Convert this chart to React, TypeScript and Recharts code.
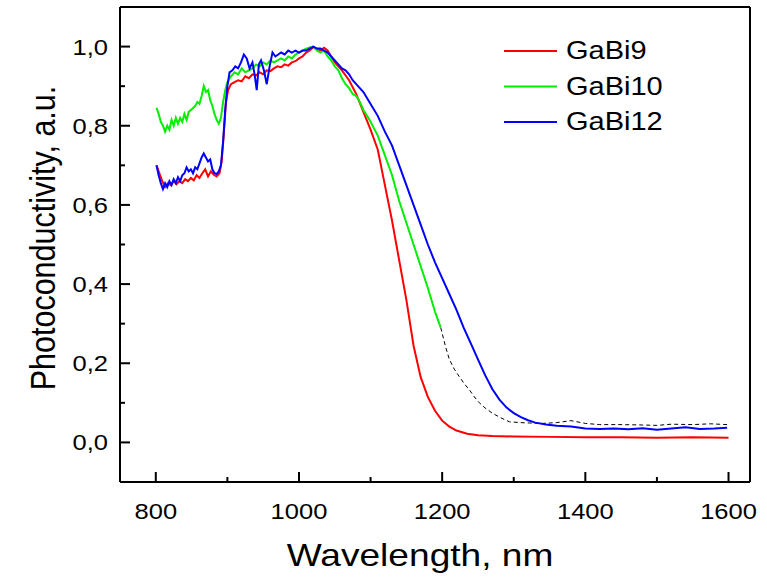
import { LineChart, Line, XAxis, YAxis, ReferenceLine } from "recharts"

// [wavelength nm, photoconductivity a.u.]
const gabi9: [number, number][] = [
  [801, 0.70], [805, 0.68], [809, 0.66], [813, 0.645], [817, 0.655], [821, 0.65], [825, 0.66], [829, 0.652],
  [833, 0.66], [837, 0.655], [841, 0.665], [845, 0.66], [849, 0.668], [853, 0.662], [857, 0.675], [861, 0.668],
  [865, 0.68], [869, 0.69], [873, 0.672], [877, 0.685], [881, 0.676], [885, 0.672], [889, 0.68], [892, 0.71],
  [895, 0.78], [898, 0.86], [901, 0.89], [905, 0.905], [910, 0.91], [915, 0.915], [920, 0.912], [925, 0.925],
  [930, 0.92], [935, 0.93], [940, 0.927], [945, 0.935], [950, 0.93], [955, 0.94], [960, 0.938], [965, 0.945],
  [970, 0.95], [975, 0.948], [980, 0.955], [985, 0.952], [990, 0.96], [995, 0.963], [1000, 0.97], [1005, 0.975],
  [1010, 0.985], [1015, 0.99], [1020, 0.998], [1025, 0.995], [1030, 0.99], [1035, 0.997], [1040, 0.99],
  [1045, 0.975], [1050, 0.96], [1060, 0.94], [1070, 0.915], [1080, 0.88], [1090, 0.835], [1100, 0.79],
  [1110, 0.74], [1120, 0.65], [1130, 0.56], [1140, 0.46], [1150, 0.36], [1160, 0.245], [1170, 0.165],
  [1180, 0.115], [1190, 0.08], [1200, 0.055], [1210, 0.04], [1220, 0.03], [1235, 0.022], [1250, 0.018],
  [1270, 0.016], [1300, 0.015], [1350, 0.014], [1400, 0.013], [1450, 0.013], [1500, 0.012], [1550, 0.013],
  [1600, 0.012],
]

const gabi10: [number, number][] = [
  [801, 0.845], [804, 0.83], [807, 0.81], [810, 0.8], [813, 0.785], [816, 0.80], [819, 0.79], [822, 0.815],
  [825, 0.80], [828, 0.82], [831, 0.805], [834, 0.82], [837, 0.81], [840, 0.83], [843, 0.815], [846, 0.835],
  [849, 0.84], [852, 0.845], [855, 0.85], [858, 0.86], [861, 0.855], [864, 0.875], [867, 0.9], [870, 0.885],
  [873, 0.89], [876, 0.865], [879, 0.85], [882, 0.83], [885, 0.815], [888, 0.805], [891, 0.82], [894, 0.86],
  [897, 0.89], [900, 0.91], [905, 0.925], [910, 0.935], [915, 0.93], [920, 0.945], [925, 0.935], [930, 0.94],
  [935, 0.945], [940, 0.955], [945, 0.95], [950, 0.96], [955, 0.955], [960, 0.965], [965, 0.96], [970, 0.965],
  [975, 0.97], [980, 0.965], [985, 0.975], [990, 0.97], [995, 0.98], [1000, 0.985], [1005, 0.99], [1010, 0.995],
  [1015, 0.998], [1020, 1.0], [1025, 0.99], [1030, 0.985], [1035, 0.99], [1040, 0.975], [1045, 0.965],
  [1050, 0.95], [1055, 0.94], [1060, 0.92], [1065, 0.905], [1070, 0.895], [1075, 0.88], [1080, 0.875],
  [1085, 0.86], [1090, 0.84], [1095, 0.825], [1100, 0.81], [1110, 0.775], [1120, 0.725], [1130, 0.675],
  [1140, 0.61], [1150, 0.555], [1160, 0.5], [1170, 0.445], [1180, 0.39], [1190, 0.33], [1198, 0.29],
]

// dashed continuation of the GaBi10 curve
const gabi10Tail: [number, number][] = [
  [1198, 0.29], [1205, 0.24], [1210, 0.21], [1217, 0.185], [1224, 0.166], [1231, 0.148], [1238, 0.133],
  [1245, 0.115], [1252, 0.10], [1260, 0.087], [1270, 0.074], [1282, 0.062], [1294, 0.052], [1310, 0.05],
  [1322, 0.049], [1340, 0.048], [1360, 0.05], [1380, 0.055], [1400, 0.048], [1420, 0.045], [1450, 0.045],
  [1480, 0.044], [1500, 0.043], [1520, 0.046], [1550, 0.045], [1575, 0.047], [1598, 0.045],
]

const gabi12: [number, number][] = [
  [801, 0.70], [804, 0.675], [807, 0.655], [810, 0.64], [813, 0.655], [816, 0.645], [819, 0.66], [822, 0.65],
  [825, 0.665], [828, 0.655], [831, 0.67], [834, 0.66], [837, 0.675], [840, 0.68], [843, 0.695], [846, 0.685],
  [849, 0.69], [852, 0.68], [855, 0.695], [858, 0.69], [861, 0.705], [864, 0.72], [867, 0.73], [870, 0.72],
  [873, 0.71], [876, 0.715], [879, 0.69], [882, 0.68], [885, 0.678], [888, 0.685], [891, 0.7], [894, 0.76],
  [897, 0.84], [900, 0.9], [903, 0.935], [907, 0.94], [911, 0.95], [915, 0.945], [919, 0.96], [923, 0.98],
  [927, 0.97], [931, 0.945], [935, 0.96], [938, 0.93], [941, 0.89], [944, 0.955], [947, 0.965], [951, 0.94],
  [955, 0.905], [959, 0.95], [963, 0.985], [967, 0.975], [971, 0.98], [975, 0.985], [980, 0.98], [985, 0.99],
  [990, 0.985], [995, 0.99], [1000, 0.985], [1005, 0.99], [1010, 0.99], [1015, 0.995], [1020, 1.0],
  [1025, 0.995], [1030, 0.995], [1035, 0.99], [1040, 0.985], [1045, 0.975], [1050, 0.965], [1055, 0.955],
  [1060, 0.945], [1065, 0.94], [1070, 0.93], [1075, 0.915], [1080, 0.905], [1085, 0.895], [1090, 0.885],
  [1095, 0.87], [1100, 0.855], [1110, 0.825], [1120, 0.785], [1130, 0.75], [1140, 0.7], [1150, 0.65],
  [1160, 0.6], [1170, 0.55], [1180, 0.5], [1190, 0.455], [1200, 0.415], [1210, 0.375], [1220, 0.335],
  [1230, 0.29], [1240, 0.25], [1250, 0.21], [1260, 0.17], [1270, 0.135], [1280, 0.108], [1290, 0.088],
  [1300, 0.074], [1310, 0.064], [1320, 0.056], [1330, 0.05], [1345, 0.045], [1360, 0.042], [1380, 0.04],
  [1400, 0.035], [1420, 0.034], [1440, 0.035], [1460, 0.033], [1480, 0.036], [1500, 0.032], [1520, 0.035],
  [1540, 0.038], [1560, 0.034], [1580, 0.035], [1598, 0.037],
]

const xTicks = [800, 900, 1000, 1100, 1200, 1300, 1400, 1500, 1600]
const yTicks = [0, 0.1, 0.2, 0.3, 0.4, 0.5, 0.6, 0.7, 0.8, 0.9, 1.0]

const series = [
  { name: "GaBi9", color: "#ff0000", data: gabi9 },
  { name: "GaBi10", color: "#00ee00", data: gabi10 },
  { name: "GaBi12", color: "#0000ff", data: gabi12 },
]

const FONT = "'Liberation Sans', Arial, sans-serif"
const STRETCH = 1.16 // reference text is a bit wider than plain Arial
const toRows = (d: [number, number][]) => d.map(([x, y]) => ({ x, y }))

const SText = ({ x, y, size, anchor = "start", rotate = 0, children }: any) => (
  <text
    transform={`translate(${x} ${y}) scale(${STRETCH} 1) rotate(${rotate})`}
    textAnchor={anchor}
    fontSize={size}
    fontFamily={FONT}
    fill="#000"
  >
    {children}
  </text>
)

const XTick = (props: any) => {
  const { x, y, payload } = props
  const major = payload.value % 200 === 0
  return (
    <g>
      <line x1={x} x2={x} y1={y} y2={y - (major ? 10 : 5)} stroke="#000" strokeWidth={2} />
      {major && <SText x={x} y={y + 37} size={22} anchor="middle">{payload.value}</SText>}
    </g>
  )
}

const YTick = (props: any) => {
  const { x, y, payload } = props
  const major = Math.round(payload.value * 10) % 2 === 0
  return (
    <g>
      <line x1={x} x2={x + (major ? 10 : 5)} y1={y} y2={y} stroke="#000" strokeWidth={2} />
      {major && (
        <SText x={x - 12} y={y + 8} size={22} anchor="end">
          {payload.value.toFixed(1).replace(".", ",")}
        </SText>
      )}
    </g>
  )
}

export default function App() {
  return (
    <div style={{ position: "absolute", left: 0, top: 0, width: 767, height: 577, background: "#fff" }}>
      <LineChart width={767} height={577} margin={{ top: 7, right: 17, left: 0, bottom: 0 }}>
        <XAxis
          dataKey="x"
          type="number"
          domain={[750, 1630]}
          ticks={xTicks}
          interval={0}
          height={95}
          tickSize={0}
          tickMargin={0}
          tick={<XTick />}
          axisLine={{ stroke: "#000", strokeWidth: 2 }}
          allowDataOverflow
        />
        <YAxis
          type="number"
          domain={[-0.1, 1.1]}
          ticks={yTicks}
          interval={0}
          width={120}
          tickSize={0}
          tickMargin={0}
          tick={<YTick />}
          axisLine={{ stroke: "#000", strokeWidth: 2 }}
          allowDataOverflow
        />
        <ReferenceLine y={1.1} stroke="#000" strokeWidth={2} />
        <ReferenceLine x={1630} stroke="#000" strokeWidth={2} />
        <Line
          data={toRows(gabi10Tail)}
          dataKey="y"
          stroke="#000"
          strokeWidth={1}
          strokeDasharray="4 3"
          dot={false}
          isAnimationActive={false}
        />
        {series.map((s) => (
          <Line
            key={s.name}
            data={toRows(s.data)}
            dataKey="y"
            name={s.name}
            stroke={s.color}
            strokeWidth={2}
            dot={false}
            isAnimationActive={false}
          />
        ))}
      </LineChart>
      <svg width={767} height={577} style={{ position: "absolute", left: 0, top: 0, pointerEvents: "none" }}>
        {series.map((s, i) => (
          <g key={s.name}>
            <line x1={504} x2={557} y1={51 + i * 35.5} y2={51 + i * 35.5} stroke={s.color} strokeWidth={2} />
            <SText x={566} y={59 + i * 35.5} size={25}>{s.name}</SText>
          </g>
        ))}
        <SText x={420} y={566} size={32} anchor="middle">Wavelength, nm</SText>
        <SText x={55} y={238} size={30.5} anchor="middle" rotate={-90}>Photoconductivity, a.u.</SText>
      </svg>
    </div>
  )
}
